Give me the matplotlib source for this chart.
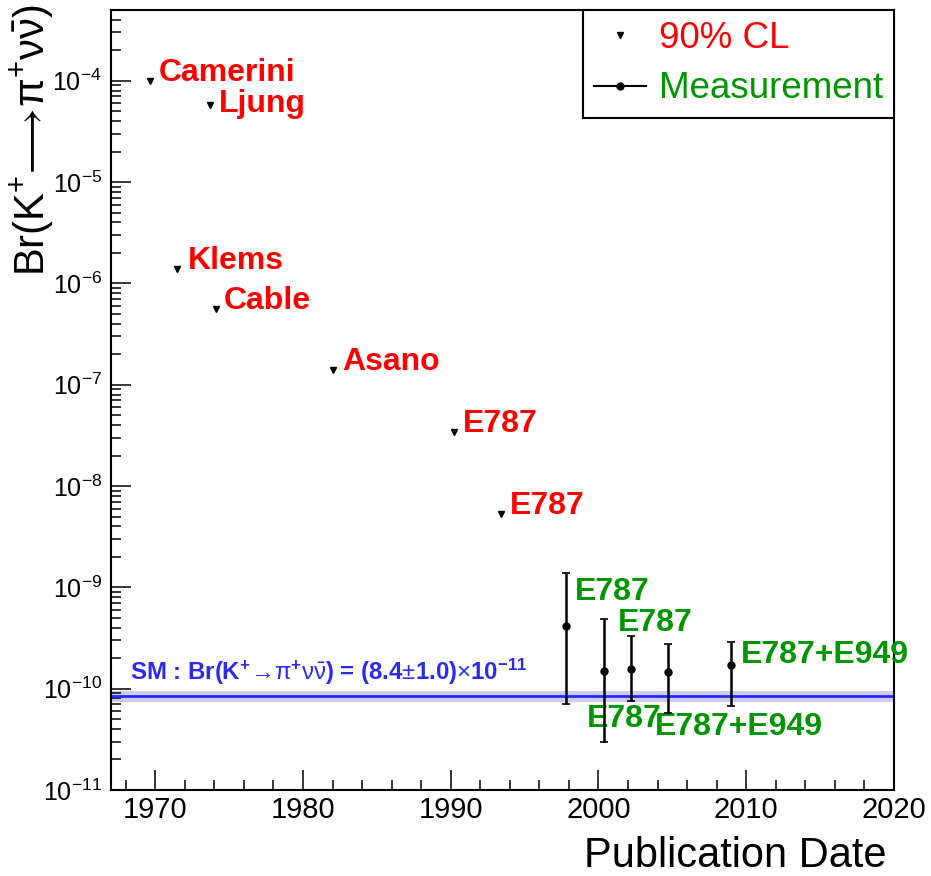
import numpy as np
import matplotlib
matplotlib.use("Agg")
import matplotlib.pyplot as plt
from matplotlib.lines import Line2D
from matplotlib.ticker import MultipleLocator, LogLocator, NullFormatter

plt.rcParams['font.family'] = ['Liberation Sans', 'DejaVu Sans']
plt.rcParams['mathtext.fontset'] = 'custom'
plt.rcParams['mathtext.rm'] = 'Liberation Sans'
plt.rcParams['mathtext.it'] = 'Liberation Sans:italic'
plt.rcParams['mathtext.bf'] = 'Liberation Sans:bold'

# 90% CL upper limits
lim_names = ['Camerini', 'Ljung', 'Klems', 'Cable', 'Asano', 'E787', 'E787']
lim_year = [1969.65, 1973.7, 1971.5, 1974.1, 1982.05, 1990.2, 1993.4]
lim_br = [1.0e-4, 5.8e-5, 1.4e-6, 5.6e-7, 1.4e-7, 3.4e-8, 5.3e-9]
lim_off = [(9, 0), (9, -7), (10, 0), (8, 0), (9, 0), (9, 0), (9, 0)]  # label shift, px

# measurements, asymmetric errors
meas_names = ['E787', 'E787', 'E787', 'E787+E949', 'E787+E949']
meas_year = [1997.8, 2000.4, 2002.2, 2004.7, 2009.0]
meas_br = [4.2e-10, 1.5e-10, 1.57e-10, 1.47e-10, 1.73e-10]
meas_up = [9.7e-10, 3.4e-10, 1.75e-10, 1.30e-10, 1.15e-10]
meas_dn = [3.5e-10, 1.2e-10, 0.82e-10, 0.89e-10, 1.05e-10]
meas_off = [(9, 26), (-18, -56), (-13, 38), (-13, -63), (9, 2)]

# standard model prediction
sm_br = 8.4e-11
sm_err = 1.0e-11

RED = '#ff0000'
GREEN = '#009600'
BLUE = '#2a2af0'

fig = plt.figure(figsize=(9.31, 8.76), dpi=100)
ax = fig.add_axes([0.1192, 0.0982, 0.8410, 0.8904])

ax.set_yscale('log')
ax.set_xlim(1967, 2020)
ax.set_ylim(1e-11, 5e-4)

# SM band
ax.axhspan(sm_br - sm_err, sm_br + sm_err, color='#9a9aff', alpha=0.5, lw=0, zorder=1)
ax.axhline(sm_br, color=BLUE, lw=2.0, zorder=2)
ax.annotate(r"SM : Br(K$^{\mathbf{+}}$→$\mathrm{\pi}^{\mathbf{+}}\mathrm{\nu}\bar{\mathrm{\nu}}$) = (8.4$\pm$1.0)$\times$10$^{\mathbf{-11}}$",
            xy=(0.024, sm_br), xycoords=('axes fraction', 'data'),
            xytext=(0, 16), textcoords='offset pixels',
            fontsize=17.3, fontweight='bold', color=BLUE, va='baseline')

# upper limits
ax.plot(lim_year, lim_br, 'v', color='black', ms=4, zorder=4)
for name, x, y, (dx, dy) in zip(lim_names, lim_year, lim_br, lim_off):
    ax.annotate(name, (x, y), xytext=(dx, dy), textcoords='offset pixels',
                fontsize=23, fontweight='bold', color=RED, va='baseline')

# measurements
ax.errorbar(meas_year, meas_br, yerr=[meas_dn, meas_up], fmt='o', color='black',
            ms=5, lw=1.8, capsize=3, capthick=1.2, zorder=4)
for name, x, y, (dx, dy) in zip(meas_names, meas_year, meas_br, meas_off):
    ax.annotate(name, (x, y), xytext=(dx, dy), textcoords='offset pixels',
                fontsize=23, fontweight='bold', color=GREEN, va='baseline')

# axes styling
ax.xaxis.set_major_locator(MultipleLocator(10))
ax.xaxis.set_minor_locator(MultipleLocator(2))
ax.yaxis.set_major_locator(LogLocator(base=10, numticks=20))
ax.yaxis.set_minor_locator(LogLocator(base=10, subs=np.arange(2, 10) * 1.0, numticks=100))
ax.yaxis.set_minor_formatter(NullFormatter())
ax.tick_params(which='both', direction='in', top=False, right=False, width=1.1)
ax.tick_params(which='major', length=14.4)
ax.tick_params(which='minor', length=7.2)
ax.tick_params(axis='x', labelsize=21, pad=4)
ax.tick_params(axis='y', labelsize=18, pad=6.5)
for sp in ax.spines.values():
    sp.set_linewidth(1.5)

fig.text(887 / 931, 0.0103, 'Publication Date', fontsize=30, ha='right', va='baseline')
fig.text(0.035, 0.995, r"Br(K$^{+}\!\longrightarrow\!\mathrm{\pi}^{+}\mathrm{\nu}\bar{\mathrm{\nu}}$)",
         fontsize=30, rotation=90, ha='center', va='top')

handles = [Line2D([], [], marker='v', color='black', ls='none', ms=4),
           Line2D([], [], marker='o', color='black', lw=1.5, ms=5)]
leg = ax.legend(handles, ['90% CL', 'Measurement'], loc='upper right',
                bbox_to_anchor=(1.0, 1.0), fontsize=26.5, fancybox=False,
                framealpha=1, edgecolor='black', borderaxespad=0,
                handlelength=1.4, handletextpad=0.35, borderpad=0.3,
                labelspacing=0.42)
leg.get_frame().set_linewidth(1.5)
for txt, col in zip(leg.get_texts(), [RED, GREEN]):
    txt.set_color(col)

fig.savefig('out.png', dpi=100)
